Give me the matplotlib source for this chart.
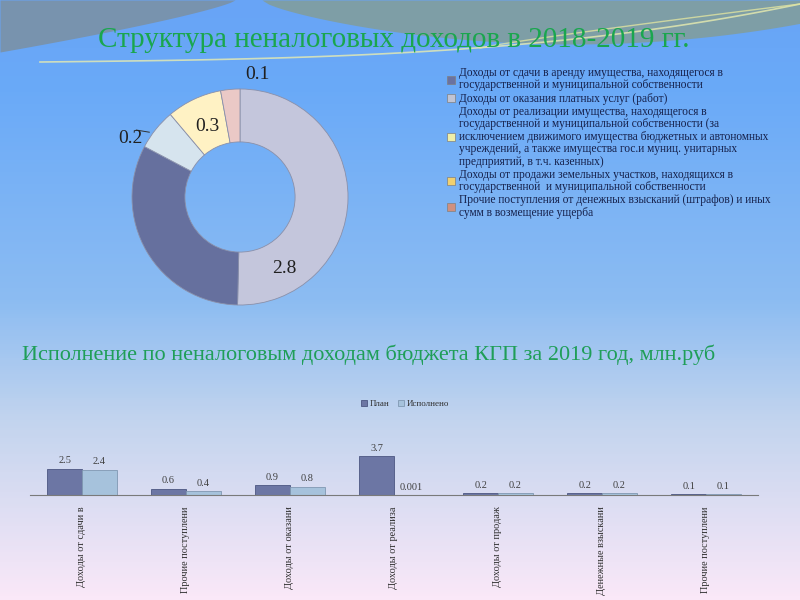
import numpy as np
import matplotlib.pyplot as plt
from matplotlib.patches import Patch
from matplotlib.colors import LinearSegmentedColormap

# --- data ---
pie_values = [2.8, 1.8, 0.34, 0.46, 0.16]
pie_labels = ["2.8", "", "0.2", "0.3", "0.1"]
pie_colors = ["#c4c6dc", "#66709e", "#d6e4ee", "#fff2c4", "#ebc9c6"]

legend_labels = [
    "Доходы от сдачи в аренду имущества, находящегося в\nгосударственной и муниципальной собственности",
    "Доходы от оказания платных услуг (работ)",
    "Доходы от реализации имущества, находящегося в\nгосударственной и муниципальной собственности (за\n"
    "исключением движимого имущества бюджетных и автономных\nучреждений, а также имущества гос.и муниц. унитарных\n"
    "предприятий, в т.ч. казенных)",
    "Доходы от продажи земельных участков, находящихся в\nгосударственной  и муниципальной собственности",
    "Прочие поступления от денежных взысканий (штрафов) и иных\nсумм в возмещение ущерба",
]
legend_colors = ["#6a72a0", "#c0c4d4", "#eeeea8", "#f0d070", "#d0907e"]

categories = ["Доходы от сдачи в", "Прочие поступлени", "Доходы от оказани", "Доходы от реализа",
              "Доходы от продаж", "Денежные взыскани", "Прочие поступлени"]
plan = [2.5, 0.6, 0.9, 3.7, 0.2, 0.2, 0.1]
done = [2.4, 0.4, 0.8, 0.001, 0.2, 0.2, 0.1]

serif = "Liberation Serif"

fig = plt.figure(figsize=(8, 6), dpi=100)

# background in pixel coordinates
bg = fig.add_axes([0, 0, 1, 1], zorder=-10)
bg.set_xlim(0, 800)
bg.set_ylim(600, 0)
bg.axis("off")
cmap = LinearSegmentedColormap.from_list("bg", [(0, "#68a4f6"), (0.15, "#6aaaf8"), (0.5, "#8cbcf2"),
                                                (0.7, "#c2d4ee"), (1, "#fae8f8")])
grad = np.linspace(0, 1, 300).reshape(-1, 1)
bg.imshow(grad, cmap=cmap, extent=[0, 800, 600, 0], aspect="auto")
xl = np.linspace(0, 235, 50)
bg.fill_between(xl, 0, 52 * (1 - xl / 235) ** 0.8, color="#7893ae", lw=0)
xr = np.linspace(262, 800, 80)
bg.fill_between(xr, 0, 44 * np.sin(np.pi * (xr - 262) / 620) ** 0.7, color="#7e9ea6", lw=0)
xc = np.linspace(40, 800, 100)
bg.plot(xc, 62 - 8 * ((xc - 40) / 760) - 50 * ((xc - 40) / 760) ** 3, color="#e8ecb0", lw=1.2, alpha=0.8)
xc2 = np.linspace(480, 800, 50)
bg.plot(xc2, 48 - 44 * ((xc2 - 480) / 320) ** 0.9, color="#e0e4a0", lw=1.0, alpha=0.8)

fig.text(394 / 800, 1 - 40 / 600, "Структура неналоговых доходов в 2018-2019 гг.", family=serif,
         fontsize=21, color="#1aa64e", ha="center", va="center")
fig.text(22 / 800, 1 - 355 / 600, "Исполнение по неналоговым доходам бюджета КГП за 2019 год, млн.руб",
         family=serif, fontsize=16, color="#1f9e58", ha="left", va="center")

# --- donut ---
cx, cy, r = 240, 197, 108
ax1 = fig.add_axes([(cx - r) / 800, (600 - cy - r) / 600, 2 * r / 800, 2 * r / 600])
wedges, _ = ax1.pie(pie_values, colors=pie_colors, startangle=90, counterclock=False, radius=1,
                    wedgeprops=dict(width=0.49, edgecolor="#8a90aa", linewidth=0.6))
ax1.set_xlim(-1, 1)
ax1.set_ylim(-1, 1)
ax1.set_aspect("auto")

# label positions (radius, clockwise angle from north)
lab_pos = [(0.78, 148), None, (1.15, 298), (0.72, 335), (1.15, 8)]
for lab, pos in zip(pie_labels, lab_pos):
    if pos is None:
        continue
    rr, ang = pos
    a = np.deg2rad(ang)
    ax1.text(rr * np.sin(a), rr * np.cos(a), lab, family=serif, fontsize=14, color="#202020",
             ha="center", va="center")
ax1.plot([-0.84, -0.96], [0.6, 0.62], color="#303030", lw=0.7)
ax1.plot([-0.05, -0.08], [1.02, 1.1], color="#303030", lw=0.7)

handles = [Patch(facecolor=c, edgecolor="#808080", linewidth=0.5) for c in legend_colors]
leg = fig.legend(handles, legend_labels, loc="upper left", bbox_to_anchor=(447 / 800, 1 - 67 / 600),
                 frameon=False, prop=dict(family=serif, size=8.3), labelcolor="#15204a",
                 handlelength=0.7, handleheight=0.7, handletextpad=0.3, labelspacing=0.1,
                 borderpad=0, borderaxespad=0)
for t in leg.get_texts():
    t.set_linespacing(1.05)

# --- bars ---
ax2 = fig.add_axes([30 / 800, 105 / 600, 728 / 800, 75 / 600])
x = np.arange(len(categories))
w = 0.335
b1 = ax2.bar(x - w / 2, plan, w, color="#6c76a4", edgecolor="#4c5682", linewidth=0.6, label="План")
b2 = ax2.bar(x + w / 2, done, w, color="#a6c2dc", edgecolor="#8098b2", linewidth=0.6, label="Исполнено")
for bars, vals in ((b1, plan), (b2, done)):
    for bar, v in zip(bars, vals):
        ax2.text(bar.get_x() + bar.get_width() / 2, v + 0.3, f"{v:g}", family=serif, fontsize=7.5,
                 color="#404040", ha="center", va="bottom")
ax2.set_xlim(-0.5, len(categories) - 0.5)
ax2.set_ylim(0, 7.1)
ax2.patch.set_visible(False)
for s in ("top", "left", "right"):
    ax2.spines[s].set_visible(False)
ax2.spines["bottom"].set_color("#7a7a7a")
ax2.set_yticks([])
ax2.set_xticks(x)
ax2.set_xticklabels(categories, rotation=90, family=serif, fontsize=7.4, color="#303030")
ax2.tick_params(axis="x", length=0, pad=8)
ax2.legend(loc="center", bbox_to_anchor=(405 / 800, 1 - 404 / 600), bbox_transform=fig.transFigure,
           ncol=2, frameon=False, prop=dict(family=serif, size=6.5), labelcolor="#303030",
           handlelength=0.6, handleheight=0.6, handletextpad=0.3, columnspacing=1.0)

fig.savefig("out.png", dpi=100)
